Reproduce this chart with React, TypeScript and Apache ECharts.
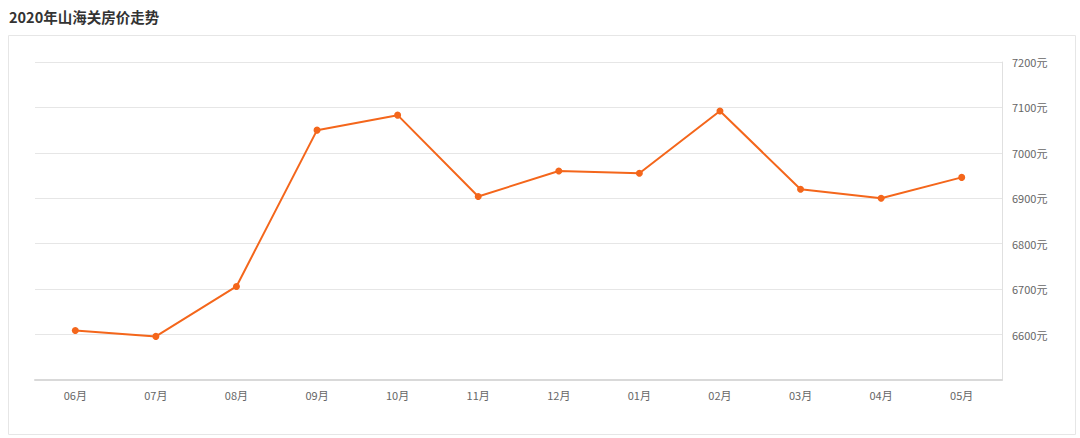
import React, { useEffect, useRef } from "react";
import * as echarts from "echarts";

const titleText = "2020年山海关房价走势";
const months = ["06月", "07月", "08月", "09月", "10月", "11月", "12月", "01月", "02月", "03月", "04月", "05月"];
const prices = [6609, 6596, 6706, 7050, 7083, 6904, 6960, 6955, 7092, 6920, 6900, 6946];
const yMin = 6500;
const yMax = 7200;
const yStep = 100;

export default function App() {
  const ref = useRef<HTMLDivElement>(null);
  useEffect(() => {
    if (!ref.current) return;
    const chart = echarts.init(ref.current, null, { renderer: "svg" });
    chart.setOption({
      animation: false,
      backgroundColor: "#ffffff",
      title: {
        text: titleText,
        left: 4,
        top: 4,
        textStyle: { fontSize: 14.5, fontWeight: "bold", color: "#333", fontFamily: "Noto Sans CJK SC" },
      },
      graphic: [
        {
          type: "rect",
          shape: { x: 8.5, y: 35.5, width: 1067, height: 399 },
          style: { fill: "none", stroke: "#e6e6e6", lineWidth: 1 },
          silent: true,
        },
      ],
      grid: { left: 35, right: 78, top: 62, bottom: 58 },
      xAxis: {
        type: "category",
        data: months,
        boundaryGap: true,
        axisLine: { lineStyle: { color: "#d9d9d9", width: 2 } },
        axisTick: { alignWithLabel: true, length: 4, lineStyle: { color: "#d9d9d9" } },
        axisLabel: { color: "#666", fontSize: 11, margin: 9, fontFamily: "Noto Sans CJK SC" },
      },
      yAxis: {
        type: "value",
        position: "right",
        min: yMin,
        max: yMax,
        interval: yStep,
        axisLine: { show: true, lineStyle: { color: "#e0e0e0" } },
        axisTick: { show: false },
        splitLine: { lineStyle: { color: "#e6e6e6" } },
        axisLabel: {
          color: "#666",
          fontSize: 11,
          margin: 10,
          showMinLabel: false,
          fontFamily: "Noto Sans CJK SC",
          formatter: (v: number) => `${v}元`,
        },
      },
      series: [
        {
          type: "line",
          data: prices,
          symbol: "circle",
          symbolSize: 7,
          itemStyle: { color: "#f4661b" },
          lineStyle: { color: "#f4661b", width: 2 },
        },
      ],
    });
    return () => chart.dispose();
  }, []);
  return <div ref={ref} style={{ position: "absolute", left: 0, top: 0, width: 1080, height: 438 }} />;
}
